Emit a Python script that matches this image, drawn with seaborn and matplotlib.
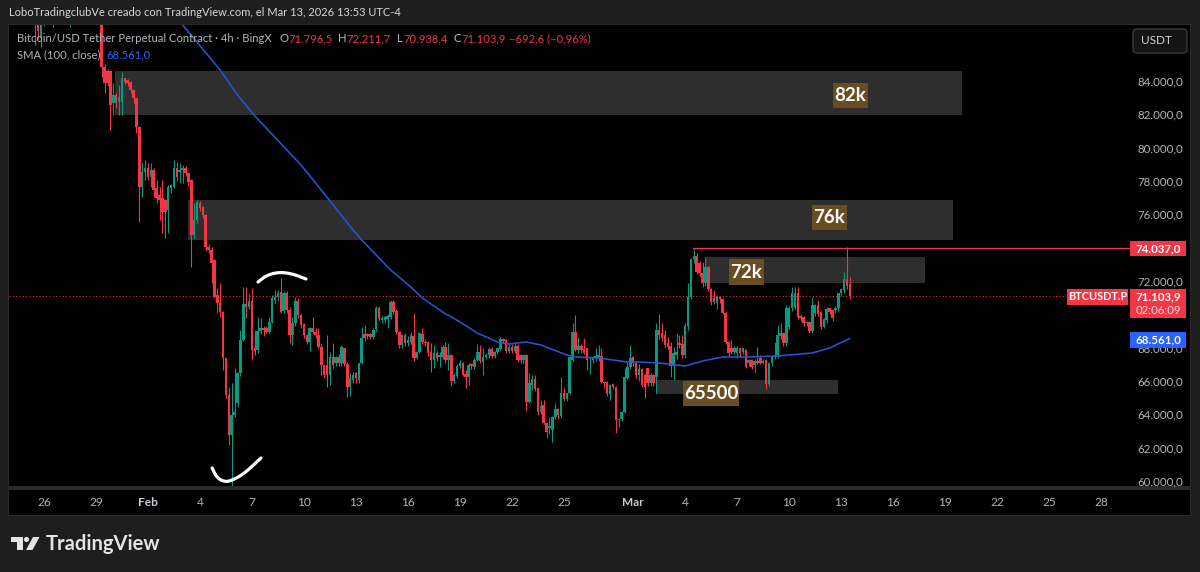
import numpy as np
import pandas as pd
import seaborn as sns
import matplotlib
matplotlib.use("Agg")
import matplotlib.pyplot as plt
from matplotlib.patches import Rectangle, FancyBboxPatch, Polygon, Circle
from matplotlib.ticker import FuncFormatter

FIRST_CANDLE = -3  # candle number of the first row; candle 0 = 26 Jan 00:00, 4h bars

opens = [
 87900,87600,86600,87700,88100,88400,88000,87900,88300,88800,88600,88200,87900,88000,88600,89100,89400,89200,88900,88500,88700,88400,88200,
 87900,84860,84620,84620,82660,83160,82760,82760,84160,84060,
 83960,83460,82960,81260,77660,78560,78760,78260,78660,77560,
 77160,76960,76860,76260,77560,77660,78760,78560,78660,78760,
 78460,78060,74760,75660,76660,76460,75960,74060,73860,73260,
 71160,70660,70160,67360,65160,62760,63960,64660,66460,68460,
 70620,70460,70820,67960,67860,69000,69200,69160,68960,69560,
 70860,71060,71320,70220,71260,70260,68760,69460,70820,69960,
 69400,68760,68360,69160,68960,68760,68060,66960,66960,66360,
 67420,67060,67460,67060,67960,67020,65660,66060,66460,66060,
 67060,68820,68820,68820,68660,69120,70400,69660,69660,69700,
 69860,70760,70200,68960,68160,68760,68260,68360,68700,67360,
 67760,68800,68360,68320,67720,67260,67660,67420,67460,68060,
 67260,67560,66020,66300,66900,67100,66400,66260,67000,66860,
 67260,67760,67160,67420,67560,67920,67500,67720,67920,68500,
 68460,67820,68060,67820,68120,67560,67260,67560,64760,65760,
 66100,65560,64160,64560,63460,63160,63060,63860,64300,63900,
 65260,64900,65260,67260,68920,67860,68120,67920,67960,67360,
 67460,67360,67360,67500,65960,65960,65220,65820,65660,63660,
 63720,64160,66160,66820,67420,67100,66360,66700,66360,66760,
 65860,66360,66260,69060,68860,68760,68260,68100,66900,67560,
 68260,68220,67560,69300,71020,73300,73500,73100,72460,71860,
 72820,71520,71000,70660,71020,70900,70100,68360,67960,67760,
 67660,67960,67760,67860,67060,67260,66960,67220,67360,67100,
 67260,65820,67100,67460,67560,68700,68860,68260,69260,70360,
 70460,71260,69900,69860,69460,69560,69020,70060,70560,70160,
 69220,69660,70360,70260,70260,70360,71260,71460,72100,71796.5]

highs = [
 88300,88000,88000,88300,88600,88700,88300,88500,89000,89200,88900,88500,88200,88800,89300,89600,89800,89500,89200,88900,89100,88700,88500,
 88300,85000,84700,84620,83860,83300,83760,84560,84200,84100,
 84000,83500,83000,81300,79160,79260,79060,79060,78800,78060,
 77660,78060,76900,77760,77800,79260,79160,79060,78960,78900,
 78500,78100,76660,76860,76800,76500,76000,74200,74060,73300,
 71560,71860,70200,67400,65660,65860,66760,66560,69060,71660,
 71660,71260,71560,69060,69860,69760,69300,69300,69860,71160,
 71460,71460,72160,71400,71400,70460,69860,71060,70960,70000,
 69500,68800,69260,69860,69160,69160,68260,67000,68760,67760,
 68260,67500,67600,68160,68000,67160,66460,66560,66560,67100,
 69260,69360,68900,68900,69160,70500,70500,69900,69900,70000,
 70860,70860,70300,69000,68800,68900,68700,68960,70060,67800,
 68900,69160,68500,68400,68260,68160,67800,67760,68160,68360,
 68260,67600,66500,67000,67260,67160,66660,67060,67100,67360,
 68220,68160,67960,67700,68060,68060,67800,68060,68620,68600,
 68500,68260,68200,68200,68200,67600,67600,67600,66460,66360,
 66360,65600,64860,64860,63500,63860,63900,64660,64400,66220,
 65560,65300,67500,69500,69960,68660,68200,68560,68000,67500,
 67500,67960,68160,67960,66000,66000,65800,65900,65700,63800,
 64200,66760,67160,68160,67500,67200,67000,66800,66400,66800,
 66500,66400,69460,70020,69460,69060,68660,68360,68060,68860,
 68760,68760,69460,71860,73400,73960,73660,73200,73160,73460,
 72900,71600,71460,71160,71100,71000,70200,68400,68460,68100,
 68100,68000,68000,67900,67300,67300,67300,68060,67560,67300,
 67300,67160,67500,68360,69360,69460,68900,70560,70500,71660,
 71660,71660,70000,69900,69600,69600,71060,70600,70860,70200,
 69800,70460,70400,70300,70500,71300,71600,72560,74037,72211.7]

lows = [
 86160,86500,86060,87300,87700,87900,87240,87600,88000,88400,87900,87700,87240,87800,88400,88800,89000,88700,88300,88100,88300,87800,87500,
 84260,83260,83700,81060,81960,82400,81960,81960,83800,83700,
 83300,82700,80860,75560,77060,78060,78060,77660,77060,76660,
 75660,74860,74560,74860,77300,77560,78000,77860,77860,78300,
 77700,72860,74560,75460,76200,75800,73800,73700,71860,71000,
 70060,69860,66660,65000,62160,59660,63860,64460,66300,68400,
 69760,70300,67260,67560,67700,68800,68700,68860,68800,69500,
 70700,70800,70100,70100,70100,68260,68160,69300,69760,69200,
 68600,68200,67820,68800,68600,67960,66360,66200,65660,65760,
 66800,66900,66900,66900,66900,65020,65120,65900,65860,65900,
 67000,68400,68500,68500,68500,69000,69600,69500,69500,69160,
 69700,70000,68800,67960,68000,68100,68100,68200,67200,67300,
 67700,68200,68100,67500,66520,66760,67200,66820,67300,67100,
 66660,65720,65900,66200,66800,66300,65560,65760,66700,66700,
 67200,67100,66360,67300,67400,67400,67400,67600,67860,68300,
 67700,67700,67700,67700,67160,67100,67100,64220,64700,65460,
 65400,63960,64000,63400,62600,62800,62360,63700,63700,63800,
 64800,64800,65200,67200,67800,67700,67700,67600,66660,66400,
 67100,67200,67200,65900,65560,65100,64860,65500,62900,63260,
 63600,64100,66100,66700,66900,66200,66000,65660,64960,65700,
 65700,65700,65260,68500,68400,68000,67900,66260,66060,67300,
 68000,67360,67400,69060,70900,73100,72400,72300,71660,71700,
 71400,70560,70600,70300,70700,70000,68200,67500,67600,67600,
 67360,67500,67600,66800,66900,66700,66460,67000,67000,67000,
 65520,65700,66900,67300,67400,68500,68100,68100,69100,70200,
 70300,69700,69600,69300,69300,68900,68860,69900,69900,69100,
 69160,69500,70000,69600,70100,70200,71100,71300,71500,70938.4]

closes = [
 87600,87000,87700,88100,88400,88000,87900,88300,88800,88600,88200,87900,88000,88600,89100,89400,89200,88900,88500,88700,88400,88200,87900,
 84860,83860,83860,82560,83160,82660,83060,84160,83960,83860,
 83460,82960,81260,77660,78560,78760,78260,78660,77460,76960,
 76860,76160,76160,77660,77760,78760,78260,78660,78760,78460,
 77960,74760,75660,76760,76360,75960,74020,73860,73060,71060,
 70660,70160,67360,65160,62760,63960,64160,66460,68460,70620,
 70460,70820,67860,67820,69020,69160,69060,68960,69560,70960,
 71060,71260,70160,71260,70260,68760,69460,70820,69960,69360,
 68760,68360,69160,68960,68760,68060,66960,66360,66360,67420,
 66960,67420,67060,68020,67020,65660,66160,66360,66160,67060,
 68560,68560,68700,68660,69060,70400,69700,69760,69820,69900,
 70760,70160,68960,68160,68760,68260,68460,68760,67360,67760,
 68860,68360,68260,67700,67260,67700,67360,67560,68060,67260,
 67560,66020,66360,66900,67100,66360,66220,66960,66900,67260,
 67760,67200,67420,67560,67920,67500,67720,67960,68500,68420,
 67820,68060,67820,68120,67260,67260,67560,64760,65860,66100,
 65500,64160,64520,63460,62960,63320,63860,64300,63960,65260,
 64900,65260,67420,68920,67860,68120,67860,67700,67260,67460,
 67260,67500,67560,65960,65860,65220,65760,65660,63660,63700,
 64160,66220,66820,67360,67060,66360,66700,65760,65660,65860,
 66360,65860,69060,68760,68560,68160,68060,66900,67660,67760,
 68160,67560,69300,71020,73300,73500,72560,72460,71860,72820,
 71520,70760,70760,71020,70900,70100,68360,67660,67760,67960,
 67960,67660,67960,66860,67260,66820,67220,67060,67100,67220,
 65820,67100,67460,67560,68760,68860,68260,70360,70360,71260,
 71260,69860,69760,69460,69560,69020,70560,70560,70020,69260,
 69720,70300,70160,69760,70400,71260,71500,72100,71700,71103.9]

sma_candles = [42,48,61,67,73,89,96,107,110,120,127,131,138,144,150,157,161,167,172,181,184,192,202,206,213,222,228,235,243,254,266,272,279]
sma_values = [88600,87360,84660,83160,81900,78960,77460,75060,74460,72660,71640,70980,70140,69540,68880,68340,68220,68340,68160,
              67560,67440,67380,67140,67140,67080,66900,67200,67440,67440,67500,67680,67980,68561]

day_ticks = [0,18,36,54,72,90,108,126,144,162,180,204,222,240,258,276,294,312,330,348,366]
day_labels = ["26","29","Feb","4","7","10","13","16","19","22","25","Mar","4","7","10","13","16","19","22","25","28"]
# 74.000 and 70.000 are covered by the price tags in the reference
price_ticks = [60000,62000,64000,66000,68000,72000,76000,78000,80000,82000,84000]

zone_start = [24.6, 49.8, 228.8, 212]
zone_end = [318, 314.6, 305, 275]
zone_low = [81960, 74460, 71880, 65220]
zone_high = [84600, 76860, 73440, 66060]

stroke_top_x = [74.1,77.2,81.7,86.2,90.7]
stroke_top_y = [71940,72360,72540,72420,72120]
stroke_bot_x = [58.2,59.9,62.7,65.4,69.6,75.1]
stroke_bot_y = [60780,60180,59940,60060,60480,61380]

resistance = 74000.0
last_price = 71103.9
UP, DOWN = "#089981", "#f23645"
BG, PANEL, ZONE, TXT = "#1e1e1e", "#000000", "#2e2e2e", "#b2b5bc"

sns.set_theme(style="dark")
plt.rcParams["font.family"] = ["Lato", "Noto Sans", "DejaVu Sans"]

W, H = 1200, 572
fig = plt.figure(figsize=(W/100, H/100), dpi=100, facecolor=BG)

def fx(x): return x / W
def fy(y): return 1 - y / H

def frect(x0, y0, x1, y1, color, z=-1, **kw):
    r = Rectangle((fx(x0), fy(y1)), (x1-x0)/W, (y1-y0)/H, transform=fig.transFigure,
                  facecolor=color, edgecolor="none", zorder=z, **kw)
    fig.add_artist(r)

def ftext(x, y, s, color=TXT, size=8.6, ha="left", weight="normal", z=6, **kw):
    return fig.text(fx(x), fy(y), s, color=color, fontsize=size, ha=ha, va="center",
                    fontweight=weight, zorder=z, **kw)

frect(8, 24, 1191, 516, "#2a2a2a", z=-2)
frect(9, 25, 1190, 515, PANEL, z=-1)
frect(9, 486, 1190, 490, "#2a2a2a", z=-1)

ax = fig.add_axes([fx(9), fy(486), (1190-9)/W, (486-25)/H], facecolor=PANEL)
px_per_candle = 17.33 / 6
ax.set_xlim((9-44)/px_per_candle, (1190-44)/px_per_candle)
ax.set_ylim(60000 + (481-486)*60, 60000 + (481-25)*60)
for s in ax.spines.values():
    s.set_visible(False)
ax.grid(False)

df = pd.DataFrame({"open": opens, "high": highs, "low": lows, "close": closes})
df["candle"] = np.arange(len(df)) + FIRST_CANDLE
df["color"] = np.where(df["close"] >= df["open"], UP, DOWN)
sma = pd.DataFrame({"candle": sma_candles, "sma": sma_values})

# zones
for a, b, lo, hi in zip(zone_start, zone_end, zone_low, zone_high):
    ax.add_patch(Rectangle((a, lo), b-a, hi-lo, facecolor=ZONE, edgecolor="none", zorder=1))

# candles
ax.vlines(df["candle"], df["low"], df["high"], colors=df["color"], linewidth=0.8, zorder=3)
ax.bar(df["candle"], (df["close"]-df["open"]).abs().clip(lower=70), bottom=df[["open","close"]].min(axis=1),
       width=0.88, color=df["color"], linewidth=0, zorder=3.2)

# SMA
sns.lineplot(data=sma, x="candle", y="sma", color="#2356d6", linewidth=1.15, ax=ax, legend=False, zorder=4, errorbar=None)

# level lines
ax.plot([224.7, 376], [resistance, resistance], color=DOWN, lw=1.0, zorder=4)
ax.plot([ax.get_xlim()[0], 354], [last_price, last_price], color=DOWN, lw=0.75, ls=(0, (1, 2.2)), zorder=2)

# hand strokes
def chaikin(xs, ys, n=3):
    p = np.column_stack([xs, ys]).astype(float)
    for _ in range(n):
        q = np.empty((2*len(p)-2, 2))
        q[0::2] = 0.75*p[:-1] + 0.25*p[1:]
        q[1::2] = 0.25*p[:-1] + 0.75*p[1:]
        p = np.vstack([p[0], q, p[-1]])
    return p[:, 0], p[:, 1]

for xs, ys in ((stroke_top_x, stroke_top_y), (stroke_bot_x, stroke_bot_y)):
    sx, sy = chaikin(xs, ys)
    ax.plot(sx, sy, color="white", lw=2.3, solid_capstyle="round", zorder=5, clip_on=False)

# axes ticks
ax.set_xlabel(""); ax.set_ylabel("")
ax.set_xticks(day_ticks, day_labels)
ax.xaxis.tick_bottom()
ax.tick_params(axis="x", length=0, pad=8, labelsize=8.6, labelcolor=TXT)
for t in ax.get_xticklabels():
    if t.get_text() in ("Feb", "Mar"):
        t.set_color("#c8cbd2")
        t.set_fontweight("bold")
ax.yaxis.tick_right()
ax.set_yticks(price_ticks)
ax.yaxis.set_major_formatter(FuncFormatter(lambda v, _: f"{int(v):,}".replace(",", ".") + ",0"))
ax.tick_params(axis="y", length=0, pad=-38, labelsize=8.3, labelcolor=TXT)
ax.set_axisbelow(True)

# title and legend
ftext(9, 12.5, "LoboTradingclubVe creado con TradingView.com, el Mar 13, 2026 13:53 UTC-4", color="#d8d8d8", size=8.05)
ftext(17, 39, "Bitcoin/USD Tether Perpetual Contract · 4h · BingX", size=8.1)
for x, s, c in [(280, "O", TXT), (288, "71.796,5", DOWN), (338, "H", TXT), (346, "72.211,7", DOWN),
                (397, "L", TXT), (403, "70.938,4", DOWN), (453, "C", TXT), (461, "71.103,9", DOWN),
                (509, "−692,6 (−0,96%)", DOWN)]:
    ftext(x, 39, s, color=c, size=8.1)
ftext(17, 55, "SMA (100, close)", size=8.1)
ftext(106, 55, "68.561,0", color="#2962ff", size=8.1)

# drawn labels
for x0, x1, y0, y1, s in [(833, 868, 83, 108, "82k"), (812, 847, 205, 230, "76k"),
                          (729, 764, 259, 285, "72k"), (683, 739, 381, 406, "65500")]:
    frect(x0, y0, x1, y1, "#694d22", z=5)
    ftext((x0+x1)/2, (y0+y1)/2, s, color="white", size=13.5, ha="center", weight="bold")

# price tags
frect(1130, 241, 1186, 256, DOWN, z=5)
ftext(1158, 248.5, "74.037,0", color="white", size=8.3, ha="center", weight="bold")
frect(1067, 289, 1128, 305, DOWN, z=5)
ftext(1097.5, 297, "BTCUSDT.P", color="white", size=7.9, ha="center", weight="bold")
frect(1130, 289, 1186, 318, DOWN, z=5)
ftext(1158, 297, "71.103,9", color="white", size=8.3, ha="center", weight="bold")
ftext(1158, 310, "02:06:09", color="#ffd5d9", size=8.2, ha="center")
frect(1130, 332, 1186, 348, "#2962ff", z=5)
ftext(1158, 340, "68.561,0", color="white", size=8.3, ha="center", weight="bold")

# unit button
to_fig = matplotlib.transforms.Affine2D().scale(1/W, 1/H) + fig.transFigure
fig.add_artist(FancyBboxPatch((1133, H-53), 54, 24, boxstyle="round,pad=0,rounding_size=4",
    transform=to_fig, facecolor="#141414", edgecolor="#3a3a3a", lw=1, zorder=5))
ftext(1141, 41, "USDT", color="#d1d4dc", size=8.5)

# logo
LOGO = "#e4e4e4"
for pts in ([(11,537),(23,537),(23,550),(17,550),(17,542),(11,542)],
            [(33,537),(39.5,537),(32.5,550),(26,550)]):
    fig.add_artist(Polygon([(x, H-y) for x, y in pts], closed=True, transform=to_fig, facecolor=LOGO, edgecolor="none", zorder=5))
fig.add_artist(Circle((26.5, H-539.5), 2.6, transform=to_fig, facecolor=LOGO, edgecolor="none", zorder=5))
ftext(46, 544, "TradingView", color=LOGO, size=14.5, weight="bold")

fig.savefig("out.png", dpi=100, facecolor=BG)
